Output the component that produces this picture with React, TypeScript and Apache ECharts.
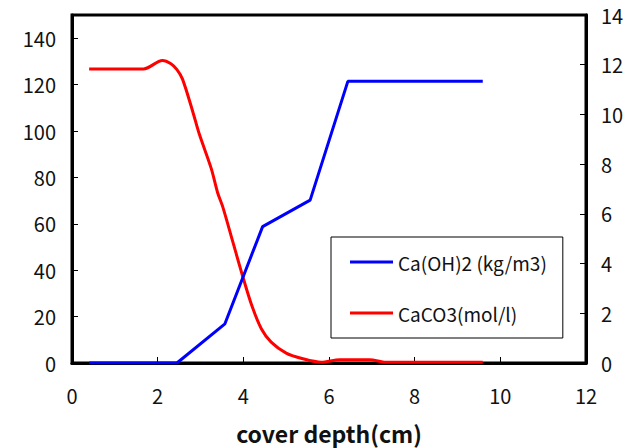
import React, { useEffect, useRef } from "react";
import * as echarts from "echarts";

const xTicks = [0, 2, 4, 6, 8, 10, 12];
const caOH2Name = "Ca(OH)2 (kg/m3)";
const caCO3Name = "CaCO3(mol/l)";
const caOH2: [number, number][] = [
  [0.4, 0],
  [2.45, 0],
  [3.57, 16.9],
  [4.45, 58.8],
  [5.56, 70.2],
  [6.44, 121.4],
  [9.59, 121.4],
];
const caCO3: [number, number][] = [
  [0.4, 11.83],
  [1.67, 11.83],
  [2.11, 12.17],
  [2.31, 12.04],
  [2.45, 11.8],
  [2.58, 11.42],
  [2.82, 10.11],
  [2.97, 9.22],
  [3.25, 7.83],
  [3.4, 6.85],
  [3.52, 6.28],
  [3.75, 4.9],
  [3.99, 3.46],
  [4.2, 2.3],
  [4.42, 1.38],
  [4.65, 0.84],
  [5.0, 0.4],
  [5.39, 0.17],
  [5.82, 0.03],
  [6.25, 0.13],
  [6.95, 0.13],
  [7.33, 0.03],
  [9.59, 0.03],
];

const FONT = "'Noto Sans CJK JP', 'Noto Sans', sans-serif";

export default function App() {
  const ref = useRef<HTMLDivElement>(null);
  useEffect(() => {
    if (!ref.current) return;
    const chart = echarts.init(ref.current, null, { renderer: "svg" });
    chart.setOption({
      animation: false,
      backgroundColor: "#ffffff",
      grid: {
        left: 72,
        right: 44,
        top: 15,
        bottom: 85,
        containLabel: false,
        outerBoundsMode: "none",
        show: true,
        borderColor: "#000",
        borderWidth: 3,
      },
      legend: {
        orient: "vertical",
        left: 331,
        top: 237,
        padding: [15, 16, 15, 19],
        icon: "rect",
        itemWidth: 43,
        itemHeight: 3,
        itemGap: 31,
        borderColor: "#000",
        borderWidth: 1,
        backgroundColor: "#fff",
        textStyle: {
          fontFamily: FONT,
          fontSize: 19,
          color: "#111",
          lineHeight: 20,
          padding: [0, 0, 0, 0],
        },
        data: [caOH2Name, caCO3Name],
      },
      xAxis: {
        type: "value",
        min: 0,
        max: 12,
        interval: 2,
        name: "cover depth(cm)",
        nameLocation: "middle",
        nameGap: 58,
        nameTextStyle: {
          fontFamily: FONT,
          fontSize: 23,
          fontWeight: "bold",
          color: "#111",
        },
        axisLine: { show: true, lineStyle: { color: "#000", width: 3 } },
        axisTick: { show: true, inside: true, length: 6, lineStyle: { color: "#000", width: 1 } },
        axisLabel: {
          fontFamily: FONT,
          fontSize: 20,
          color: "#111",
          margin: 22,
          formatter: (v: number) => (xTicks.includes(v) ? String(v) : ""),
        },
        splitLine: { show: false },
      },
      yAxis: [
        {
          type: "value",
          min: 0,
          max: 150,
          interval: 20,
          position: "left",
          axisLine: { show: true, lineStyle: { color: "#000", width: 3 } },
          axisTick: { show: true, inside: true, length: 6, lineStyle: { color: "#000", width: 1 } },
          axisLabel: {
            fontFamily: FONT,
            fontSize: 20,
            color: "#111",
            margin: 16,
            formatter: (v: number) => (v % 20 === 0 ? String(v) : ""),
          },
          splitLine: { show: false },
        },
        {
          type: "value",
          min: 0,
          max: 14,
          interval: 2,
          position: "right",
          axisLine: { show: true, lineStyle: { color: "#000", width: 3 } },
          axisTick: { show: true, inside: true, length: 6, lineStyle: { color: "#000", width: 1 } },
          axisLabel: {
            fontFamily: FONT,
            fontSize: 20,
            color: "#111",
            margin: 15,
          },
          splitLine: { show: false },
        },
      ],
      series: [
        {
          name: caOH2Name,
          type: "line",
          yAxisIndex: 0,
          data: caOH2,
          symbol: "none",
          lineStyle: { color: "#0000ff", width: 3 },
          itemStyle: { color: "#0000ff" },
          z: 3,
        },
        {
          name: caCO3Name,
          type: "line",
          yAxisIndex: 1,
          data: caCO3,
          symbol: "none",
          smooth: 0.3,
          lineStyle: { color: "#ff0000", width: 3 },
          itemStyle: { color: "#ff0000" },
          z: 2,
        },
      ],
    });
    return () => chart.dispose();
  }, []);
  return (
    <div
      ref={ref}
      style={{ position: "fixed", left: 0, top: 0, width: 630, height: 448 }}
    />
  );
}
